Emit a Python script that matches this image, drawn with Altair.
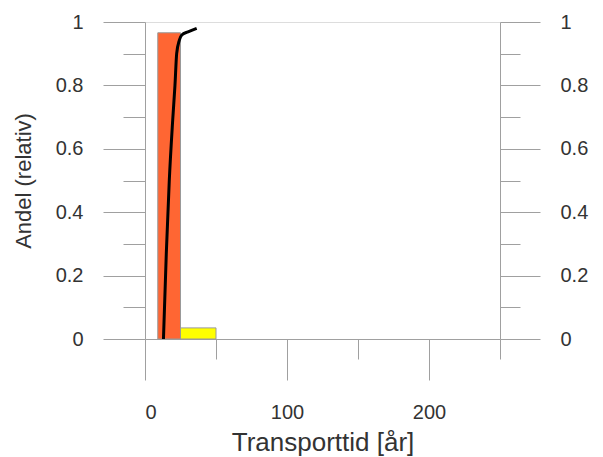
import altair as alt
import pandas as pd

# Histogram bins (transport time, years) and relative share
bin_start = [9, 25]
bin_end = [25, 50]
bin_share = [0.966, 0.035]
bin_color = ["#FF6633", "#FFFF00"]

# Cumulative curve
cum_x = [13.0, 15.0, 17.1, 19.5, 21.1, 22.3, 24.2, 25.9, 30.3, 36.4]
cum_y = [0.0, 0.27, 0.50, 0.69, 0.80, 0.90, 0.943, 0.959, 0.969, 0.98]

y_major = [0, 0.2, 0.4, 0.6, 0.8, 1.0]
y_minor = [0.1, 0.3, 0.5, 0.7, 0.9]
x_major = [0, 100, 200]
x_minor = [50, 150, 250]

bars = pd.DataFrame({"x0": bin_start, "x1": bin_end, "share": bin_share, "color": bin_color})
cum = pd.DataFrame({"t": cum_x, "v": cum_y})
ymaj = pd.DataFrame({"y": y_major})
ymin = pd.DataFrame({"y": y_minor})

FONT = "Liberation Sans"
TICK = "#a0a0a0"
LAB = "#333333"

xscale = alt.Scale(domain=[0, 250], nice=False, zero=False)
yscale = alt.Scale(domain=[0, 1], nice=False)

def xaxis_major():
    return alt.Axis(values=x_major, tickSize=41, labelPadding=22, labelFontSize=20,
                    labelFont=FONT, labelColor=LAB, tickColor=TICK, domainColor=TICK,
                    title="Transporttid [år]", titleFont=FONT, titleFontSize=26,
                    titleFontWeight="normal", titleColor=LAB, titlePadding=7,
                    grid=False, orient="bottom", format="d")

def xaxis_minor():
    return alt.Axis(values=x_minor, tickSize=20, labels=False, domain=False,
                    tickColor=TICK, title=None, grid=False, orient="bottom")

bar_layer = alt.Chart(bars).mark_rect(stroke="#999999", strokeWidth=1).encode(
    x=alt.X("x0:Q", scale=xscale, axis=xaxis_major()),
    x2="x1:Q",
    y=alt.Y("share:Q", scale=yscale,
            axis=alt.Axis(values=y_major, tickSize=42, labelPadding=20, labelFontSize=20,
                          labelFont=FONT, labelColor=LAB, tickColor=TICK, domainColor=TICK,
                          format="~g",
                          title="Andel (relativ)", titleFont=FONT, titleFontSize=22,
                          titleFontWeight="normal", titleColor=LAB, titlePadding=20,
                          grid=False, orient="left")),
    y2=alt.datum(0),
    color=alt.Color("color:N", scale=None),
)

line_layer = alt.Chart(cum).mark_line(color="black", strokeWidth=3, interpolate="monotone").encode(
    x=alt.X("t:Q", scale=xscale, axis=xaxis_minor()),
    y=alt.Y("v:Q", scale=yscale,
            axis=alt.Axis(values=y_minor, tickSize=22, labels=False, domain=False,
                          tickColor=TICK, title=None, grid=False, orient="left")),
)

right_major = alt.Chart(ymaj).mark_point(opacity=0).encode(
    x=alt.X("y:Q", scale=xscale, axis=None),
    y=alt.Y("y:Q", scale=yscale,
            axis=alt.Axis(values=y_major, tickSize=40, labelPadding=20, labelFontSize=20,
                          labelFont=FONT, labelColor=LAB, tickColor=TICK, domainColor=TICK,
                          format="~g",
                          title=None, grid=False, orient="right")),
)

right_minor = alt.Chart(ymin).mark_point(opacity=0).encode(
    x=alt.X("y:Q", scale=xscale, axis=None),
    y=alt.Y("y:Q", scale=yscale,
            axis=alt.Axis(values=y_minor, tickSize=20, labels=False, domain=False,
                          tickColor=TICK, title=None, grid=False, orient="right")),
)

chart = alt.layer(bar_layer, line_layer, right_major, right_minor).resolve_scale(
    x="shared", y="shared"
).resolve_axis(x="independent", y="independent").properties(
    width=355, height=317, autosize="none",
    padding={"left": 145, "top": 22, "right": 103, "bottom": 118},
).configure_view(stroke=None).configure(background="white")

chart.save("out.html", embed_options={"renderer": "svg", "actions": False})
